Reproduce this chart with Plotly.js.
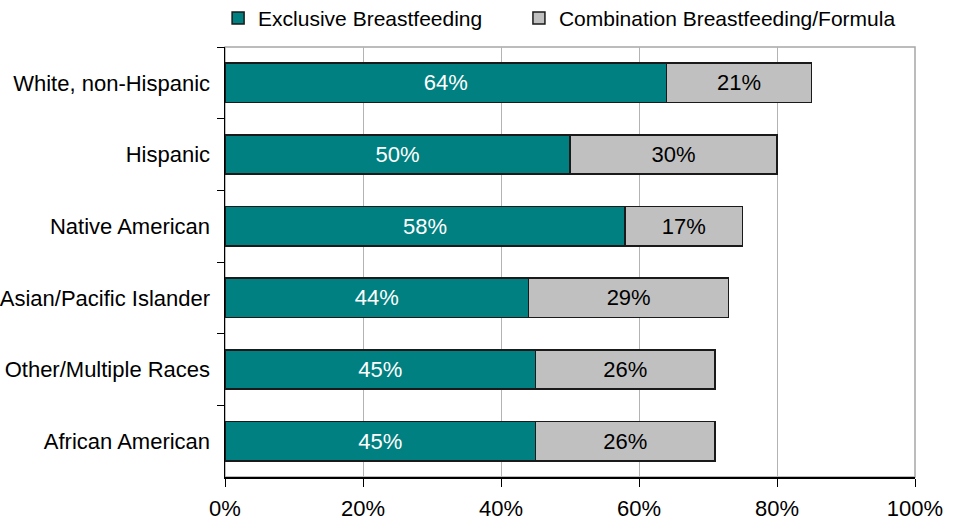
<!DOCTYPE html>
<html>
<head>
<meta charset="utf-8">
<script src="https://cdn.plot.ly/plotly-3.0.1.min.js"></script>
<style>html,body{margin:0;padding:0;background:#fff;}#chart{width:955px;height:521px;}</style>
</head>
<body>
<div id="chart"></div>
<script>
const categories = ["White, non-Hispanic", "Hispanic", "Native American", "Asian/Pacific Islander", "Other/Multiple Races", "African American"];
const exclusive = [64, 50, 58, 44, 45, 45];
const combination = [21, 30, 17, 29, 26, 26];
const xTickVals = [0, 20, 40, 60, 80, 100];
const xTickText = ["0%", "20%", "40%", "60%", "80%", "100%"];

const fontFamily = "Liberation Sans, Arial, sans-serif";
const traces = [
  {
    type: "bar", orientation: "h", name: "Exclusive Breastfeeding",
    y: categories, x: exclusive, legend: "legend",
    marker: {color: "#008080", line: {color: "#1a1a1a", width: 1.5}},
    texttemplate: "%{x}%", textposition: "inside", insidetextanchor: "middle",
    textfont: {color: "#ffffff", size: 22, family: fontFamily},
    constraintext: "none", hoverinfo: "skip"
  },
  {
    type: "bar", orientation: "h", name: "Combination Breastfeeding/Formula",
    y: categories, x: combination, legend: "legend2",
    marker: {color: "#c0c0c0", line: {color: "#1a1a1a", width: 1.5}},
    texttemplate: "%{x}%", textposition: "inside", insidetextanchor: "middle",
    textfont: {color: "#000000", size: 22, family: fontFamily},
    constraintext: "none", hoverinfo: "skip"
  }
];

const legendCommon = {
  orientation: "h", yanchor: "bottom", y: 1.019, xanchor: "left",
  font: {size: 21, family: fontFamily}, itemwidth: 30, bgcolor: "rgba(0,0,0,0)"
};

const layout = {
  width: 955, height: 521,
  margin: {l: 225, r: 40, t: 47, b: 44, pad: 0, autoexpand: false},
  barmode: "stack",
  bargap: 0.45,
  paper_bgcolor: "#ffffff", plot_bgcolor: "#ffffff",
  font: {family: fontFamily, size: 22, color: "#000"},
  showlegend: true,
  legend: Object.assign({}, legendCommon, {x: -0.01}),
  legend2: Object.assign({}, legendCommon, {x: 0.426}),
  xaxis: {
    range: [0, 100], tickvals: xTickVals, ticktext: xTickText,
    showgrid: true, gridcolor: "#b3b3b3", gridwidth: 1,
    showline: true, linecolor: "#000", linewidth: 1.5,
    ticks: "outside", ticklen: 8, tickcolor: "#000", tickwidth: 1,
    tickfont: {size: 22, family: fontFamily}, ticklabelstandoff: 3,
    zeroline: false, fixedrange: true
  },
  yaxis: {
    type: "category", autorange: "reversed",
    showline: true, linecolor: "#000", linewidth: 1.5,
    ticks: "outside", tickson: "boundaries", ticklen: 7, tickcolor: "#000",
    showgrid: false, tickfont: {size: 22, family: fontFamily},
    ticklabelstandoff: 9, fixedrange: true
  },
  shapes: [
    {type: "rect", xref: "paper", yref: "paper", x0: 0, x1: 1, y0: 0, y1: 1,
     line: {color: "#a6a6a6", width: 1.5}, layer: "below"}
  ]
};

Plotly.newPlot("chart", traces, layout, {displayModeBar: false, staticPlot: true});
</script>
</body>
</html>
